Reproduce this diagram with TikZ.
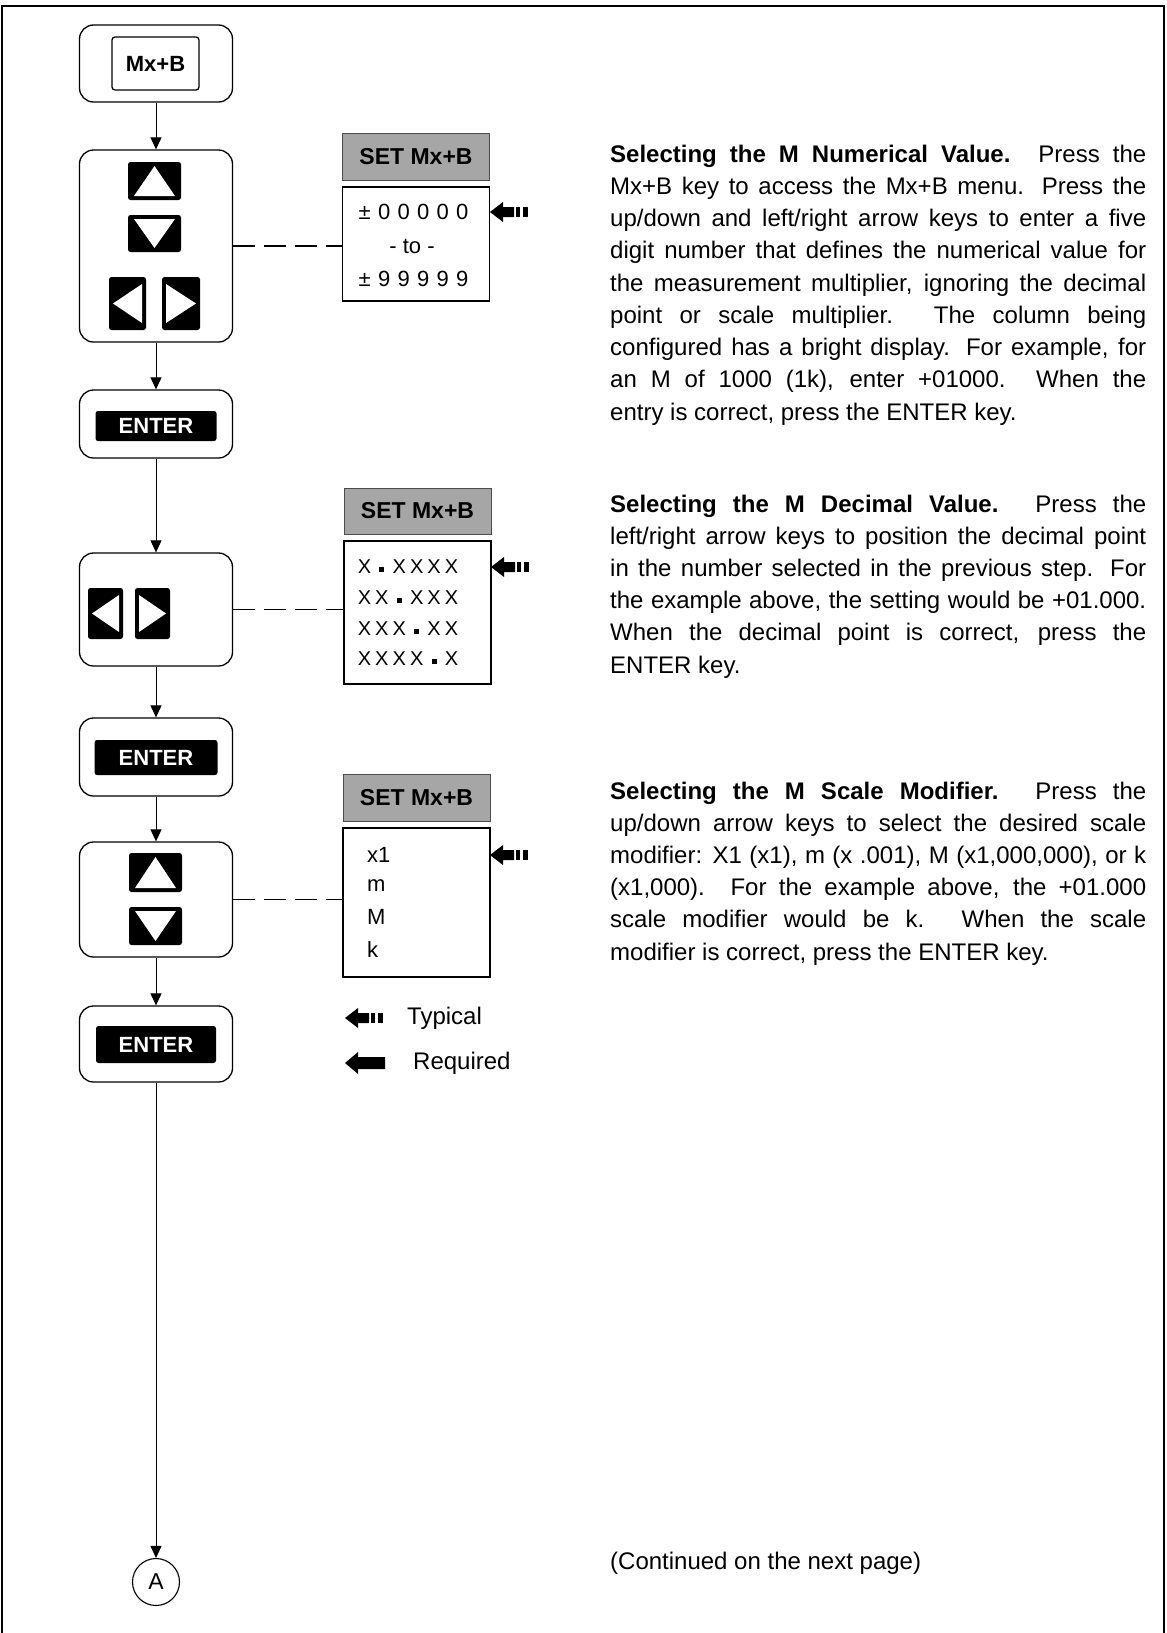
\documentclass[tikz,border=0pt]{standalone}
\usepackage{fontspec}
\setmainfont{Liberation Sans}
\usetikzlibrary{arrows.meta,calc}
\tikzset{
 outerbox/.style={draw, line width=1.3pt, rounded corners=14pt, minimum width=153pt, inner sep=0},
 keybox/.style={fill=black, rounded corners=2.5pt, inner sep=0},
 enterkey/.style={keybox, text=white, font=\bfseries\fontsize{22}{24}\selectfont},
 hdr/.style={fill=black!35, draw=black!70, line width=0.8pt, minimum width=147pt, minimum height=47pt, inner sep=0, font=\bfseries\fontsize{23}{26}\selectfont},
 disp/.style={draw, line width=1.1pt, minimum width=147pt, inner sep=0},
 conn/.style={line width=0.8pt, -{Triangle[width=11pt,length=12pt]}},
 dashconn/.style={line width=1.1pt, dash pattern=on 22pt off 9pt},
 para/.style={anchor=base west, inner sep=0, font=\fontsize{24}{30}\selectfont},
 rowtxt/.style={inner sep=0, font=\fontsize{22}{26}\selectfont},
 legtxt/.style={anchor=west, inner sep=0, font=\fontsize{24}{28}\selectfont},
}
\newcommand\slotA[1]{\makebox[19.5pt]{#1}}
\newcommand\slotB[1]{\makebox[17.4pt]{#1}}
\newcommand\sqd{\rule[1.5pt]{5pt}{5pt}}
\newcommand\KeyUp[4]{%
 \fill[rounded corners=2.5pt] (#1,#2) rectangle (#3,#4);
 \fill[white] ({(#1+#3)/2},{#2+4}) -- ({#3-6},{#4-4}) -- ({#1+6},{#4-4}) -- cycle;}
\newcommand\KeyDown[4]{%
 \fill[rounded corners=2.5pt] (#1,#2) rectangle (#3,#4);
 \fill[white] ({(#1+#3)/2},{#4-4}) -- ({#3-6},{#2+4}) -- ({#1+6},{#2+4}) -- cycle;}
\newcommand\KeyLeft[4]{%
 \fill[rounded corners=2.5pt] (#1,#2) rectangle (#3,#4);
 \fill[white] ({#1+4},{(#2+#4)/2}) -- ({#3-4},{#2+7}) -- ({#3-4},{#4-7}) -- cycle;}
\newcommand\KeyRight[4]{%
 \fill[rounded corners=2.5pt] (#1,#2) rectangle (#3,#4);
 \fill[white] ({#3-4},{(#2+#4)/2}) -- ({#1+4},{#2+7}) -- ({#1+4},{#4-7}) -- cycle;}
\newcommand\TypArrow[2]{%
 \fill (#1,#2) -- ++(13,-10) -- ++(0,5) -- ++(11,0) -- ++(0,10) -- ++(-11,0) -- ++(0,5) -- cycle;
 \fill (#1+26,#2-5) rectangle ++(4,10);
 \fill (#1+33,#2-5) rectangle ++(5,10);}
\newcommand\ReqArrow[2]{%
 \fill (#1,#2) -- ++(13,-11) -- ++(0,5) -- ++(27,0) -- ++(0,12) -- ++(-27,0) -- ++(0,5) -- cycle;}
\begin{document}
\begin{tikzpicture}[x=1pt,y=-1pt]
\useasboundingbox (0,0) rectangle (1167,1633);
% frame
\draw[line width=1.2pt] (2,1633) -- (2,6) -- (1164,6) -- (1164,1633);

% ---- left column ----
\node[outerbox, minimum height=77pt] (mxb) at (156,63.5) {};
\node[draw, line width=1.3pt, rounded corners=3pt, minimum width=87pt, minimum height=53pt, inner sep=0, font=\bfseries\fontsize{22}{26}\selectfont] (mxbkey) at (155.5,63.5) {Mx+B};

\node[outerbox, minimum height=192pt] (ud1) at (156,246) {};
\KeyUp{128}{162}{181}{200}
\KeyDown{128}{215}{181}{252}
\KeyLeft{109}{277}{146}{330}
\KeyRight{162}{277}{200}{330}

\node[outerbox, minimum height=68pt] (ent1) at (156,424) {};
\node[enterkey, minimum width=121pt, minimum height=30pt] (ent1k) at (156,426) {ENTER};

\node[outerbox, minimum height=113pt] (lr) at (156,609.5) {};
\KeyLeft{88}{588}{123}{639}
\KeyRight{135}{588}{170}{639}

\node[outerbox, minimum height=78pt] (ent2) at (156,757) {};
\node[enterkey, minimum width=123pt, minimum height=35pt] (ent2k) at (156,757.5) {ENTER};

\node[outerbox, minimum height=115pt] (ud2) at (156,899.5) {};
\KeyUp{129}{853}{182}{892}
\KeyDown{129}{907}{182}{945}

\node[outerbox, minimum height=76pt] (ent3) at (156,1044) {};
\node[enterkey, minimum width=120pt, minimum height=37pt] (ent3k) at (156,1044.5) {ENTER};

\node[circle, draw, line width=1.1pt, minimum size=47pt, inner sep=0, font=\fontsize{23}{26}\selectfont] (circA) at (156,1582) {A};

\draw[conn] (mxb.south) -- (ud1.north);
\draw[conn] (ud1.south) -- (ent1.north);
\draw[conn] (ent1.south) -- (lr.north);
\draw[conn] (lr.south) -- (ent2.north);
\draw[conn] (ent2.south) -- (ud2.north);
\draw[conn] (ud2.south) -- (ent3.north);
\draw[conn] (ent3.south) -- (circA.north);

% ---- displays ----
\node[hdr] (hdr1) at (416,156.5) {SET Mx+B};
\node[disp, minimum height=114pt] (disp1) at (416,244) {};
\node[rowtxt] (d1a) at (413.5,212) {\slotA{±}\slotA{0}\slotA{0}\slotA{0}\slotA{0}\slotA{0}};
\node[rowtxt] (d1b) at (412,246) {- to -};
\node[rowtxt] (d1c) at (413.5,279) {\slotA{±}\slotA{9}\slotA{9}\slotA{9}\slotA{9}\slotA{9}};
\TypArrow{490}{212}

\node[hdr, minimum height=46pt] (hdr2) at (417.5,511) {SET Mx+B};
\node[disp, minimum height=143pt] (disp2) at (417.5,612.5) {};
\begin{scope}[every node/.style={rowtxt, font=\fontsize{20}{24}\selectfont}]
\node (d2a) at (408,567) {\slotB{X}\slotB{\sqd}\slotB{X}\slotB{X}\slotB{X}\slotB{X}};
\node (d2b) at (408,598) {\slotB{X}\slotB{X}\slotB{\sqd}\slotB{X}\slotB{X}\slotB{X}};
\node (d2c) at (408,629) {\slotB{X}\slotB{X}\slotB{X}\slotB{\sqd}\slotB{X}\slotB{X}};
\node (d2d) at (408,659) {\slotB{X}\slotB{X}\slotB{X}\slotB{X}\slotB{\sqd}\slotB{X}};
\end{scope}
\TypArrow{491}{567}

\node[hdr] (hdr3) at (416.5,797.5) {SET Mx+B};
\node[disp, minimum height=149pt] (disp3) at (416.5,902.5) {};
\node[rowtxt, anchor=west] (d3a) at (367,855) {x1};
\node[rowtxt, anchor=west] (d3b) at (367,886) {m};
\node[rowtxt, anchor=west] (d3c) at (367,917) {M};
\node[rowtxt, anchor=west] (d3d) at (367,950) {k};
\TypArrow{490}{855}

\draw[dashconn] (ud1.east) -- (ud1.east -| disp1.west);
\draw[dashconn] (lr.east) -- (lr.east -| disp2.west);
\draw[dashconn] (ud2.east) -- (ud2.east -| disp3.west);

% legend
\TypArrow{345}{1018}
\node[legtxt] (legT) at (407,1018) {Typical};
\ReqArrow{345}{1063}
\node[legtxt] (legR) at (413,1063) {Required};

% ---- paragraphs ----
\node[para] (p1a) at (610,162) {\makebox[536pt][s]{\textbf{Selecting the M Numerical Value.} Press the}};
\node[para] (p1b) at (610,194.25) {\makebox[536pt][s]{Mx+B key to access the Mx+B menu. Press the}};
\node[para] (p1c) at (610,226.5) {\makebox[536pt][s]{up/down and left/right arrow keys to enter a five}};
\node[para] (p1d) at (610,258.75) {\makebox[536pt][s]{digit number that defines the numerical value for}};
\node[para] (p1e) at (610,291) {\makebox[536pt][s]{the measurement multiplier, ignoring the decimal}};
\node[para] (p1f) at (610,323.25) {\makebox[536pt][s]{point or scale multiplier. The column being}};
\node[para] (p1g) at (610,355.5) {\makebox[536pt][s]{configured has a bright display. For example, for}};
\node[para] (p1h) at (610,387.75) {\makebox[536pt][s]{an M of 1000 (1k), enter +01000. When the}};
\node[para] (p1i) at (610,420) {entry is correct, press the ENTER key.};

\node[para] (p2a) at (610,512) {\makebox[536pt][s]{\textbf{Selecting the M Decimal Value.} Press the}};
\node[para] (p2b) at (610,544.2) {\makebox[536pt][s]{left/right arrow keys to position the decimal point}};
\node[para] (p2c) at (610,576.4) {\makebox[536pt][s]{in the number selected in the previous step. For}};
\node[para] (p2d) at (610,608.6) {\makebox[536pt][s]{the example above, the setting would be +01.000.}};
\node[para] (p2e) at (610,640.8) {\makebox[536pt][s]{When the decimal point is correct, press the}};
\node[para] (p2f) at (610,673) {ENTER key.};

\node[para] (p3a) at (610,799) {\makebox[536pt][s]{\textbf{Selecting the M Scale Modifier.} Press the}};
\node[para] (p3b) at (610,831.2) {\makebox[536pt][s]{up/down arrow keys to select the desired scale}};
\node[para] (p3c) at (610,863.4) {\makebox[536pt][s]{modifier: X1 (x1), m (x .001), M (x1,000,000), or k}};
\node[para] (p3d) at (610,895.6) {\makebox[536pt][s]{(x1,000). For the example above, the +01.000}};
\node[para] (p3e) at (610,927.8) {\makebox[536pt][s]{scale modifier would be k. When the scale}};
\node[para] (p3f) at (610,960) {modifier is correct, press the ENTER key.};

\node[para] (cont) at (610,1569) {(Continued on the next page)};
\end{tikzpicture}
\end{document}
